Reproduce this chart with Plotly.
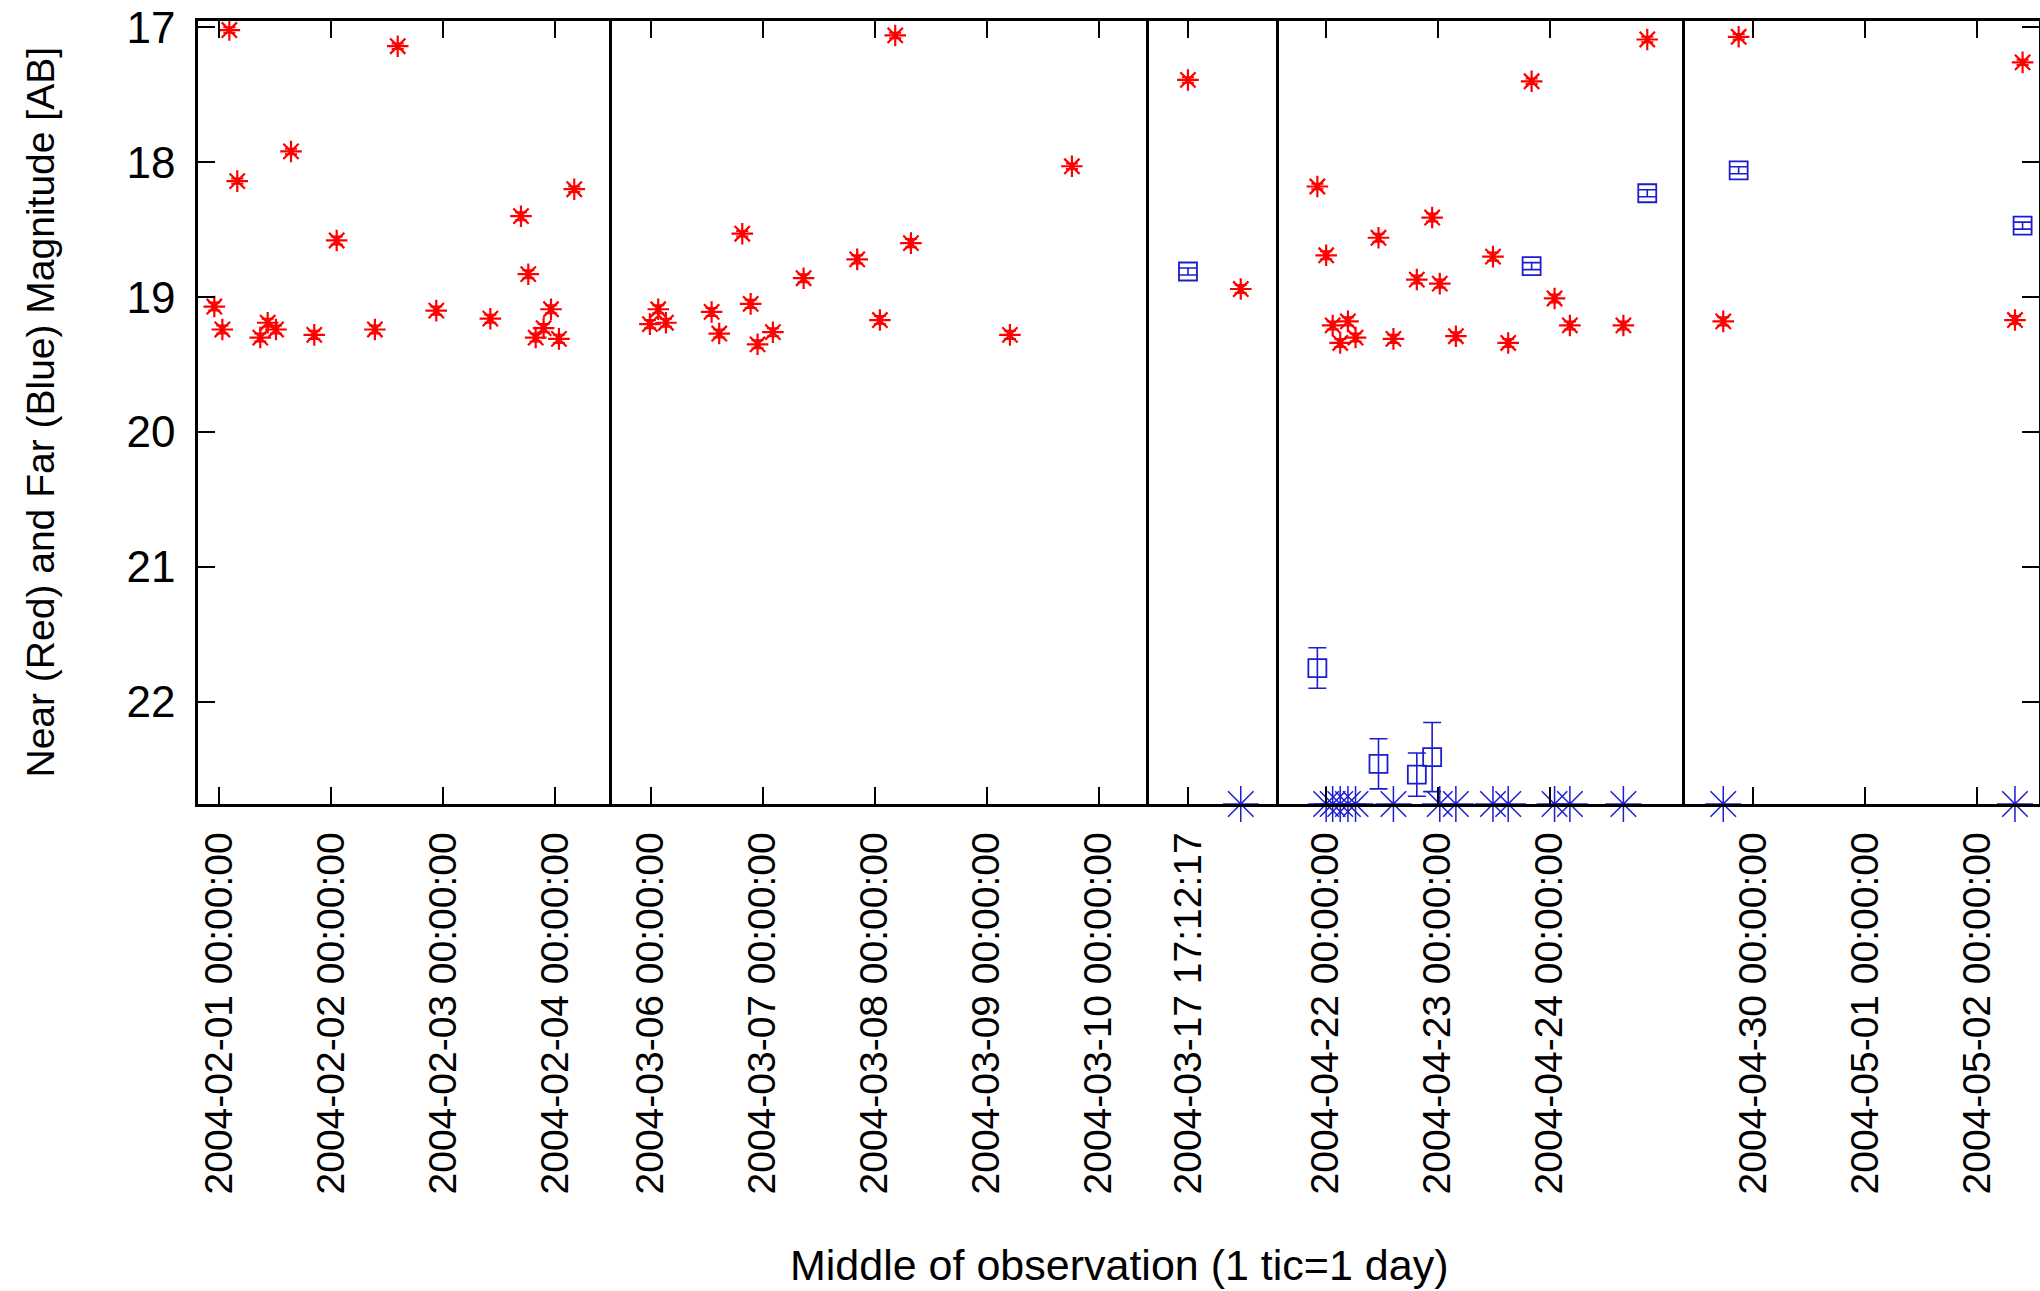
import pandas as pd
import plotly.graph_objects as go
from plotly.subplots import make_subplots

# ---------------- data ----------------
# Near-UV (red) detections: time, magnitude, error
nuv_time = [
    "2004-01-31 22:56", "2004-02-01 00:39", "2004-02-01 02:09", "2004-02-01 03:51",
    "2004-02-01 08:47", "2004-02-01 10:22", "2004-02-01 12:09", "2004-02-01 15:22",
    "2004-02-01 20:21", "2004-02-02 01:09", "2004-02-02 09:21", "2004-02-02 14:14",
    "2004-02-02 22:30", "2004-02-03 10:05", "2004-02-03 16:39", "2004-02-03 18:13",
    "2004-02-03 19:48", "2004-02-03 21:30", "2004-02-03 23:05", "2004-02-04 00:47",
    "2004-02-04 04:04",
    "2004-03-05 23:51", "2004-03-06 01:38", "2004-03-06 03:17", "2004-03-06 13:04",
    "2004-03-06 14:42", "2004-03-06 19:38", "2004-03-06 21:26", "2004-03-06 22:55",
    "2004-03-07 02:12", "2004-03-07 08:47", "2004-03-07 20:16", "2004-03-08 01:08",
    "2004-03-08 04:25", "2004-03-08 07:47", "2004-03-09 05:00", "2004-03-09 18:17",
    "2004-03-17 17:12:17", "2004-03-18 04:31",
    "2004-04-21 22:12", "2004-04-22 00:05", "2004-04-22 01:29", "2004-04-22 03:06",
    "2004-04-22 04:45", "2004-04-22 06:23", "2004-04-22 11:18", "2004-04-22 14:30",
    "2004-04-22 19:31", "2004-04-22 22:48", "2004-04-23 00:26", "2004-04-23 03:53",
    "2004-04-23 11:50", "2004-04-23 15:06", "2004-04-23 20:07", "2004-04-24 01:02",
    "2004-04-24 04:19", "2004-04-24 15:47", "2004-04-24 20:54",
    "2004-04-29 17:34", "2004-04-29 20:52", "2004-05-02 08:05", "2004-05-02 09:43",
]
nuv_mag = [
    19.07, 19.24, 17.02, 18.14, 19.30, 19.19, 19.24, 17.92, 19.28, 18.58, 19.24,
    17.14, 19.10, 19.16, 18.40, 18.83, 19.30, 19.23, 19.09, 19.31, 18.20,
    19.20, 19.09, 19.19, 19.11, 19.27, 18.53, 19.05, 19.35, 19.26, 18.86, 18.72,
    19.17, 17.06, 18.60, 19.28, 18.03,
    17.39, 18.94,
    18.18, 18.69, 19.21, 19.34, 19.18, 19.30, 18.56, 19.31, 18.87, 18.41, 18.90,
    19.29, 18.70, 19.34, 17.40, 19.01, 19.21, 19.21, 17.09,
    19.18, 17.07, 19.17, 17.26,
]
nuv_err = [
    0.03, 0.03, 0.02, 0.02, 0.03, 0.03, 0.03, 0.02, 0.03, 0.03, 0.03,
    0.02, 0.03, 0.03, 0.03, 0.03, 0.03, 0.03, 0.03, 0.03, 0.02,
    0.03, 0.03, 0.03, 0.03, 0.03, 0.02, 0.03, 0.03, 0.03, 0.03, 0.03,
    0.03, 0.02, 0.03, 0.03, 0.02,
    0.02, 0.03,
    0.02, 0.03, 0.03, 0.03, 0.03, 0.03, 0.03, 0.03, 0.03, 0.03, 0.03,
    0.03, 0.03, 0.03, 0.02, 0.03, 0.03, 0.03, 0.02,
    0.03, 0.02, 0.03, 0.02,
]

# Far-UV (blue) detections
fuv_time = [
    "2004-03-17 17:12:17", "2004-04-21 22:12", "2004-04-22 11:18", "2004-04-22 19:31",
    "2004-04-22 22:48", "2004-04-23 20:07", "2004-04-24 20:54", "2004-04-29 20:52",
    "2004-05-02 09:43",
]
fuv_mag = [18.81, 21.75, 22.46, 22.54, 22.41, 18.77, 18.23, 18.06, 18.47]
fuv_err = [0.026, 0.15, 0.186, 0.16, 0.256, 0.026, 0.026, 0.026, 0.026]

# Far-UV non-detections (limits plotted on the faint edge)
fuv_lim_time = [
    "2004-03-18 04:31",
    "2004-04-22 00:05", "2004-04-22 01:29", "2004-04-22 03:06", "2004-04-22 04:45",
    "2004-04-22 06:23", "2004-04-22 14:30", "2004-04-23 00:26", "2004-04-23 03:53",
    "2004-04-23 11:50", "2004-04-23 15:06", "2004-04-24 01:02", "2004-04-24 04:19",
    "2004-04-24 15:47",
    "2004-04-29 17:34", "2004-05-02 08:05",
]
fuv_lim_mag = [22.758, 22.758, 22.758, 22.758, 22.758, 22.758, 22.758, 22.758,
               22.758, 22.758, 22.758, 22.758, 22.758, 22.758, 22.758, 22.758]

# broken time axis: one window per panel
panel_start = ["2004-01-31 19:26", "2004-03-05 15:43", "2004-03-17 08:50",
               "2004-04-21 13:58", "2004-04-29 09:28"]
panel_end = ["2004-02-04 12:09", "2004-03-10 10:47", "2004-03-18 12:42",
             "2004-04-25 05:05", "2004-05-02 13:14"]
panel_ticks = [
    ["2004-02-01 00:00:00", "2004-02-02 00:00:00", "2004-02-03 00:00:00", "2004-02-04 00:00:00"],
    ["2004-03-06 00:00:00", "2004-03-07 00:00:00", "2004-03-08 00:00:00",
     "2004-03-09 00:00:00", "2004-03-10 00:00:00"],
    ["2004-03-17 17:12:17"],
    ["2004-04-22 00:00:00", "2004-04-23 00:00:00", "2004-04-24 00:00:00"],
    ["2004-04-30 00:00:00", "2004-05-01 00:00:00", "2004-05-02 00:00:00"],
]
y_ticks = [17, 18, 19, 20, 21, 22]
y_range = [22.758, 16.953]

x_title = "Middle of observation (1 tic=1 day)"
y_title = "Near (Red) and Far (Blue) Magnitude [AB]"

# ---------------- figure ----------------
RED = "#ff0000"
BLUE = "#1c1cd0"
FONT = "Liberation Sans, Arial, sans-serif"


def to_dt(v):
    return pd.to_datetime(pd.Series(v), format="mixed")


starts = list(to_dt(panel_start))
ends = list(to_dt(panel_end))
durations = [(e - s).total_seconds() for s, e in zip(starts, ends)]
total = sum(durations)
widths = [d / total for d in durations]

npan = len(panel_start)
fig = make_subplots(rows=1, cols=npan, column_widths=widths, horizontal_spacing=0)

nuv = pd.DataFrame({"t": to_dt(nuv_time), "m": nuv_mag, "e": nuv_err})
fuv = pd.DataFrame({"t": to_dt(fuv_time), "m": fuv_mag, "e": fuv_err})
lim = pd.DataFrame({"t": to_dt(fuv_lim_time), "m": fuv_lim_mag})

for i in range(npan):
    s, e = starts[i], ends[i]
    col = i + 1
    a = nuv[(nuv.t >= s) & (nuv.t <= e)]
    b = fuv[(fuv.t >= s) & (fuv.t <= e)]
    c = lim[(lim.t >= s) & (lim.t <= e)]
    if len(c):
        fig.add_trace(go.Scatter(
            x=list(c.t), y=list(c.m), mode="markers", cliponaxis=False, showlegend=False,
            marker=dict(symbol="asterisk-open", size=30, color=BLUE,
                        line=dict(color=BLUE, width=1.5))), row=1, col=col)
    if len(a):
        fig.add_trace(go.Scatter(
            x=list(a.t), y=list(a.m), mode="markers", showlegend=False,
            error_y=dict(type="data", array=list(a.e), color=RED, thickness=2, width=6),
            marker=dict(symbol="asterisk-open", size=18, color=RED,
                        line=dict(color=RED, width=2.2))), row=1, col=col)
    if len(b):
        fig.add_trace(go.Scatter(
            x=list(b.t), y=list(b.m), mode="markers", showlegend=False,
            error_y=dict(type="data", array=list(b.e), color=BLUE, thickness=1.6, width=9),
            marker=dict(symbol="square-open", size=18, color=BLUE,
                        line=dict(color=BLUE, width=1.8))), row=1, col=col)

    xa = dict(type="date", range=[panel_start[i], panel_end[i]],
              tickmode="array", tickvals=panel_ticks[i], ticktext=panel_ticks[i],
              tickangle=-90, ticks="inside", ticklen=17, tickwidth=2, tickcolor="black",
              showline=True, linecolor="black", linewidth=2.5, mirror="ticks",
              showgrid=False, zeroline=False, automargin=False,
              ticklabelstandoff=10, ticklabeloverflow="allow",
              tickfont=dict(family=FONT, size=39, color="black"))
    ya = dict(range=y_range, tickmode="array", tickvals=y_ticks,
              showline=True, linecolor="black", linewidth=2.5, mirror=False,
              showgrid=False, zeroline=False, automargin=False,
              ticklabeloverflow="allow",
              tickfont=dict(family=FONT, size=44, color="black"))
    if i == 0:
        ya.update(ticks="inside", ticklen=17, tickwidth=2, tickcolor="black",
                  showticklabels=True, ticklabelstandoff=11)
    elif i == npan - 1:
        # right border with inward ticks; mirror draws this panel's left separator
        ya.update(side="right", ticks="inside", ticklen=17, tickwidth=2,
                  tickcolor="black", showticklabels=False, mirror=True)
    else:
        ya.update(ticks="", showticklabels=False)
    sfx = "" if i == 0 else str(i + 1)
    fig.layout["xaxis" + sfx].update(xa)
    fig.layout["yaxis" + sfx].update(ya)

fig.add_annotation(text=x_title, xref="paper", yref="paper", x=0.5, y=0,
                   xanchor="center", yanchor="middle", yshift=-461, showarrow=False,
                   font=dict(family=FONT, size=43, color="black"))
fig.add_annotation(text=y_title, xref="paper", yref="paper", x=0, y=0.5,
                   xanchor="center", yanchor="middle", xshift=-158, textangle=-90,
                   showarrow=False, font=dict(family=FONT, size=39, color="black"))

fig.update_layout(width=2040, height=1291, template="none",
                  paper_bgcolor="white", plot_bgcolor="white",
                  margin=dict(l=198, r=1, t=21, b=487), showlegend=False)

# remove the default page margin so the figure fills the window exactly
fig.write_html("out.html", config={"displayModeBar": False},
               post_script="document.body.style.margin='0';document.body.style.overflow='hidden';")
